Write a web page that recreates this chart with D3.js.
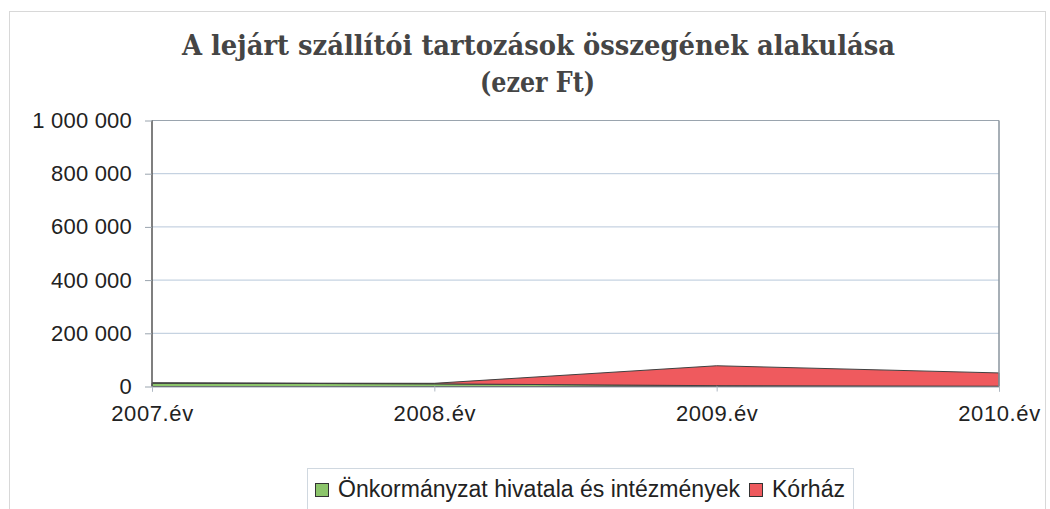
<!DOCTYPE html>
<html><head><meta charset="utf-8">
<script src="https://cdn.jsdelivr.net/npm/d3@7"></script>
<style>body{margin:0;background:#fff}svg{display:block}</style>
</head><body>
<svg id="c" width="1050" height="509"></svg>
<script>
const categories = ["2007.év","2008.év","2009.év","2010.év"];
const onkormanyzat = [13000, 10000, 3000, 1000];
const korhaz = [0, 2000, 75000, 50000];
const yTicks = [0, 200000, 400000, 600000, 800000, 1000000];
const seriesNames = ["Önkormányzat hivatala és intézmények", "Kórház"];
const colors = ["#8cc56b", "#ef5a5e"];

const svg = d3.select("#c");
const m = {l:152, r:999, t:120.5, b:386.5};
const x = d3.scalePoint().domain(categories).range([m.l, m.r]);
const y = d3.scaleLinear().domain([0,1000000]).range([m.b, m.t]);
const sans = "Liberation Sans, Arial, sans-serif";

// outer border
svg.append("rect").attr("x",9.5).attr("y",11.5).attr("width",1036).attr("height",500)
  .attr("fill","none").attr("stroke","#d8d8d8").attr("stroke-width",1);

// title
svg.append("text").attr("x",182).attr("y",55)
  .attr("font-family","DejaVu Serif").attr("font-weight","bold").attr("font-size",27)
  .attr("fill","#454545").attr("textLength",713).attr("lengthAdjust","spacingAndGlyphs")
  .text("A lejárt szállítói tartozások összegének alakulása");
svg.append("text").attr("x",480).attr("y",92)
  .attr("font-family","DejaVu Serif").attr("font-weight","bold").attr("font-size",27)
  .attr("fill","#454545").attr("textLength",115).attr("lengthAdjust","spacingAndGlyphs")
  .text("(ezer Ft)");

// gridlines
svg.append("g").selectAll("line").data(yTicks.filter(d=>d>0)).join("line")
  .attr("x1",m.l).attr("x2",m.r).attr("y1",d=>y(d)).attr("y2",d=>y(d))
  .attr("stroke","#b8c8da").attr("stroke-width",1);

// stacked data
const data = categories.map((c,i)=>({cat:c, a:onkormanyzat[i], b:korhaz[i]}));
const stack = d3.stack().keys(["a","b"])(data);
const area = d3.area().x(d=>x(d.data.cat)).y0(d=>y(d[0])).y1(d=>y(d[1]));
svg.append("g").selectAll("path").data(stack).join("path")
  .attr("d",area).attr("fill",(d,i)=>colors[i])
  .attr("stroke","#404040").attr("stroke-width",1);

// plot border
svg.append("line").attr("x1",m.l).attr("x2",m.r).attr("y1",m.t).attr("y2",m.t).attr("stroke","#9aa4ae");
svg.append("line").attr("x1",m.r).attr("x2",m.r).attr("y1",m.t).attr("y2",m.b).attr("stroke","#8a949e").attr("stroke-width",1.5);

// y axis
const ya = svg.append("g").attr("transform",`translate(${m.l},0)`)
  .call(d3.axisLeft(y).tickValues(yTicks).tickSize(7).tickPadding(13)
    .tickFormat(d=>d3.format(",")(d).replace(/,/g," ")));
ya.select(".domain").attr("stroke","#555").attr("stroke-width",1.5).attr("d",`M0,${m.t}V${m.b}`);
ya.selectAll(".tick line").attr("stroke","#9aa4ae");
ya.selectAll("text").attr("font-family",sans).attr("font-size",22).attr("fill","#222").attr("letter-spacing","0.2");

// x axis
const xa = svg.append("g").attr("transform",`translate(0,${m.b})`)
  .call(d3.axisBottom(x).tickSize(5).tickPadding(14));
xa.select(".domain").attr("stroke","#9aa4ae");
xa.selectAll(".tick line").attr("stroke","#b0bac4");
xa.selectAll("text").attr("font-family",sans).attr("font-size",22).attr("fill","#222").attr("letter-spacing","0.6");

// legend
const lg = svg.append("g");
lg.append("rect").attr("x",307.5).attr("y",468.5).attr("width",546).attr("height",42)
  .attr("fill","#fff").attr("stroke","#d0d8e0");
const items = [{x:315, tx:338, w:402}, {x:749, tx:772, w:73}];
items.forEach((it,i)=>{
  lg.append("rect").attr("x",it.x+0.5).attr("y",483.5).attr("width",13).attr("height",13)
    .attr("fill",colors[i]).attr("stroke","#333");
  lg.append("text").attr("x",it.tx).attr("y",497).attr("font-family",sans)
    .attr("font-size",23).attr("fill","#222")
    .attr("textLength",it.w).attr("lengthAdjust","spacingAndGlyphs").text(seriesNames[i]);
});
</script>
</body></html>
